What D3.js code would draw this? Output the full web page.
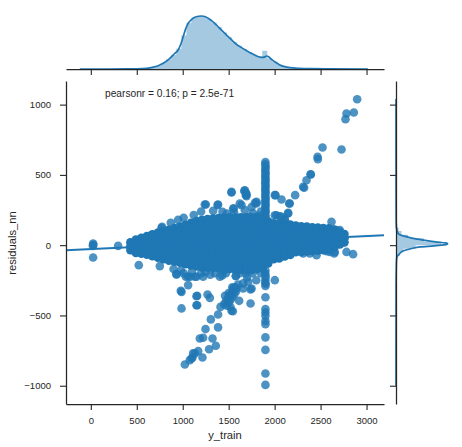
<!DOCTYPE html>
<html>
<head>
<meta charset="utf-8">
<script src="https://cdn.jsdelivr.net/npm/d3@7"></script>
<style>
body { margin: 0; background: #fff; }
text { font-family: "Liberation Sans", Arial, sans-serif; fill: #262626; }
</style>
</head>
<body>
<div id="chart"></div>
<script>
const width = 462
const height = 447

// axis limits and ticks
const xDomain = [-270, 3190]
const yDomain = [-1130, 1168]
const xTicks = [0, 500, 1000, 1500, 2000, 2500, 3000]
const yTicks = [-1000, -500, 0, 500, 1000]

// regression fit (residuals_nn ~ y_train)
const regIntercept = -28
const regSlope = 0.031
const statText = 'pearsonr = 0.16; p = 2.5e-71'

// dense core of the cloud, one column of residuals per y_train value
const coreX = [430, 490, 550, 610, 670, 730, 790, 850, 910, 970, 1030, 1090, 1150, 1210, 1270, 1330, 1390, 1450, 1510, 1570,
  1630, 1690, 1750, 1810, 1870, 1930, 1990, 2050, 2110, 2170, 2230, 2290, 2350, 2410, 2470, 2530, 2590, 2650, 2710, 2760]
const coreY = [
  [20, -8, -35],
  [40, 8, -22, -55],
  [52, 18, -18, -60],
  [65, 30, -5, -38, -68],
  [78, 45, 12, -20, -50, -78],
  [90, 58, 25, -8, -40, -68, -90],
  [100, 68, 35, 2, -32, -65, -100],
  [110, 78, 45, 12, -20, -52, -82, -110],
  [122, 90, 58, 25, -8, -40, -72, -100, -118],
  [130, 98, 65, 32, 0, -32, -65, -95, -125],
  [145, 112, 78, 45, 12, -20, -52, -85, -112, -135],
  [160, 125, 90, 58, 25, -8, -40, -72, -105, -145],
  [172, 138, 102, 68, 35, 2, -30, -62, -95, -125, -152],
  [180, 145, 110, 75, 40, 5, -28, -60, -92, -125, -158],
  [186, 150, 115, 80, 45, 10, -25, -58, -92, -126, -160],
  [190, 155, 120, 85, 50, 15, -20, -55, -90, -125, -163],
  [193, 158, 122, 88, 52, 18, -18, -52, -88, -125, -166],
  [196, 160, 125, 90, 55, 20, -15, -50, -85, -122, -168],
  [198, 162, 126, 92, 56, 20, -15, -50, -85, -125, -170],
  [199, 163, 127, 92, 57, 22, -14, -50, -88, -128, -172],
  [199, 163, 128, 92, 57, 22, -14, -50, -88, -130, -174],
  [198, 162, 126, 90, 55, 20, -15, -52, -90, -132, -176],
  [197, 160, 124, 88, 52, 18, -18, -55, -92, -135, -176],
  [195, 158, 122, 86, 50, 15, -20, -55, -92, -130, -170],
  [192, 156, 120, 85, 50, 15, -20, -55, -90, -128, -165],
  [170, 135, 100, 65, 30, -5, -40, -75, -105, -130],
  [156, 122, 88, 54, 20, -15, -48, -78, -100],
  [154, 120, 86, 52, 18, -16, -50, -75, -95],
  [151, 118, 84, 50, 17, -16, -50, -80],
  [147, 115, 82, 48, 15, -18, -50, -70],
  [140, 108, 76, 42, 10, -22, -50],
  [135, 104, 72, 40, 8, -22, -48],
  [132, 100, 70, 38, 6, -20, -45],
  [128, 96, 66, 34, 4, -20, -42],
  [125, 93, 62, 32, 2, -18, -40],
  [122, 90, 58, 28, 0, -35],
  [120, 88, 56, 24, -5, -30],
  [112, 80, 48, 16, -15],
  [95, 62, 32, 5],
  [80, 50, 20]
]

// scattered points around the core
const outliers = [
  [25, 12], [28, 2], [22, -5], [25, -88], [297, -5], [522, -142], [751, -149], [932, -208], [932, -206],
  [1059, -284], [987, -332], [979, -325], [987, -450], [1150, -363], [1157, -360], [1150, -427], [1157, -427],
  [1132, -225], [1034, -225], [1059, -225], [1082, -225], [1150, -225], [1222, -225],
  [569, 28], [660, 71], [769, 123], [776, 130],
  [1023, -849], [1077, -818], [1096, -806], [1106, -799], [1113, -770], [1132, -770], [1168, -754], [1215, -799],
  [1287, -740], [1360, -716], [1186, -664], [1222, -659], [1324, -664], [1248, -597], [1385, -585], [1306, -528],
  [1385, -493], [1411, -439], [1270, -351], [1295, -375],
  [1450, -420], [1470, -400], [1490, -380], [1510, -360], [1530, -340], [1550, -320], [1570, -300], [1480, -430],
  [1500, -410], [1520, -390], [1540, -370], [1560, -350], [1580, -330], [1460, -360], [1500, -340], [1540, -300],
  [1600, -280], [1520, -440], [1531, -467], [1545, -470], [1614, -396], [1658, -308], [1738, -315], [1738, -415],
  [1712, -261], [1578, -218], [2002, -249], [1404, -225], [1430, -215], [1470, -200], [1447, -183], [1494, -166],
  [1578, -221], [1658, -272], [1785, -161], [1749, -308], [1549, -306], [1585, -306], [1687, -201], [1749, -178],
  [1785, -142],
  [900, -170], [980, -180], [1010, -200], [1100, -190], [1200, -200], [1250, -190], [1300, -210], [1350, -200],
  [1620, -200], [1700, -230], [1760, -200], [1800, -250], [1850, -200],
  [2601, -48], [2655, -48], [2782, -48], [2854, -64], [2565, -43], [2648, -59], [2456, -71],
  [2383, -59], [2310, -59], [2666, 107], [2619, 166],
  [2898, 1038], [2782, 937], [2771, 896], [2862, 944], [2521, 695], [2728, 681], [2467, 628], [2470, 612],
  [2394, 503], [2391, 505], [2347, 462], [2321, 408], [2310, 415], [2223, 356], [2158, 296], [2165, 296],
  [2075, 325], [2010, 356], [2002, 356], [1676, 391], [1694, 363], [1669, 386], [1687, 356], [1531, 375],
  [1531, 379], [1251, 289], [1240, 289], [1385, 289], [1379, 285], [1331, 244], [1433, 237], [1549, 261],
  [1556, 261], [1621, 296], [1749, 272], [1803, 296], [1803, 308], [2002, 213], [2020, 213], [2057, 206],
  [2147, 225], [2147, 230], [2111, 183], [2111, 178], [2075, 201], [2709, 107], [1687, 372],
  [1694, 349], [1785, 301], [1763, 228], [1730, 201], [1803, 201], [1640, 285], [1676, 249],
  [870, 160], [950, 180], [1010, 195], [1120, 215], [1200, 240], [1480, 225], [1560, 230], [1850, 240], [1840, 210]
]

// the vertical streak near y_train = 1900
const streakX = [1900, 1898, 1902, 1900, 1898, 1902, 1900, 1898, 1902, 1900, 1898, 1902, 1900, 1898, 1902, 1900, 1898,
  1902, 1900, 1898, 1902, 1900, 1898, 1902, 1900, 1898, 1902,
  1900, 1898, 1902, 1900, 1898, 1902, 1900, 1900, 1900, 1900, 1900, 1900, 1900, 1900, 1900, 1900, 1900]
const streakY = [592, 575, 560, 545, 530, 515, 500, 485, 470, 455, 440, 425, 410, 395, 380, 365, 350,
  335, 320, 305, 290, 275, 260, 245, 230, 215, 200,
  -180, -200, -220, -240, -263, -275, -290, -370, -455, -479, -503, -540, -563, -656, -745, -913, -994]

// top marginal: histogram + kde of y_train
const histXStart = 325
const histXWidth = 55
const histXHeights = [0.01, 0.01, 0.02, 0.03, 0.06, 0.15, 0.3, 0.55, 1.0, 1.6, 2.3, 3.3, 5.5, 7.6, 8.4, 8.7, 8.6, 8.2,
  7.6, 6.9, 6.0, 5.2, 4.4, 3.8, 3.3, 2.8, 2.35, 2.0, 3.0, 1.75, 1.2, 0.7, 0.38, 0.2, 0.12, 0.08, 0.05, 0.04, 0.03,
  0.02, 0.02, 0.01, 0.01, 0.01, 0.01, 0.01, 0.01]
const kdeX = [-120, 200, 400, 500, 605, 680, 751, 810, 860, 910, 950, 980, 1005, 1030, 1059, 1095, 1132, 1170, 1205,
  1240, 1277, 1320, 1368, 1420, 1477, 1530, 1585, 1640, 1694, 1750, 1803, 1840, 1875, 1895, 1912, 1935, 1966, 2010,
  2057, 2110, 2165, 2270, 2383, 2600, 3015]
const kdeXVals = [0, 0, 0.01, 0.03, 0.11, 0.3, 0.66, 1.15, 1.75, 2.5, 3.11, 4.1, 5.3, 6.5, 7.49, 8.1, 8.47, 8.65, 8.69,
  8.6, 8.31, 7.85, 7.21, 6.4, 5.57, 4.8, 4.05, 3.5, 3.0, 2.55, 2.13, 1.95, 1.91, 2.0, 2.13, 2.0, 1.58, 1.1,
  0.66, 0.38, 0.22, 0.1, 0.05, 0.02, 0]

// right marginal: histogram + kde of residuals_nn
const histYStart = -200
const histYWidth = 25
const histYHeights = [0.02, 0.05, 0.08, 0.15, 0.3, 0.6, 1.2, 3.2, 7.4, 4.6, 2.0, 0.9, 0.4, 0.2, 0.1, 0.05]
const kdeY = [-1000, -300, -150, -100, -83, -60, -45, -36, -24, -12, -5, 0, 4, 8, 12, 16, 24, 36, 48, 59, 80,
  107, 130, 200, 400, 1040]
const kdeYVals = [0, 0.01, 0.05, 0.1, 0.16, 0.6, 1.0, 1.5, 2.6, 4.0, 6.2, 7.5, 8.2, 8.46, 8.4, 8.1, 6.5, 4.5, 2.8,
  1.8, 0.4, 0.16, 0.05, 0.02, 0.01, 0]

const blue = '#1f77b4'
const edge = '#262626'
const tickFmt = d3.format('d')

const svg = d3.select('#chart').append('svg')
  .attr('width', width)
  .attr('height', height)

const x = d3.scaleLinear().domain(xDomain).range([66, 384])
const y = d3.scaleLinear().domain(yDomain).range([404, 81])
const topV = d3.scaleLinear().domain([0, 10]).range([69, 8])
const sideV = d3.scaleLinear().domain([0, 10]).range([396, 457])

// --- main scatter
// the core stands in for thousands of overlapping points, so it renders opaque
const corePoints = coreX.flatMap((cx, i) => coreY[i].map(cy => [cx, cy]))
const loosePoints = outliers.concat(streakX.map((sx, i) => [sx, streakY[i]]))

svg.append('g')
  .selectAll('circle')
  .data(corePoints)
  .enter()
  .append('circle')
  .attr('cx', d => x(d[0]))
  .attr('cy', d => y(d[1]))
  .attr('r', 4.3)
  .attr('fill', blue)

svg.append('g')
  .selectAll('circle')
  .data(loosePoints)
  .enter()
  .append('circle')
  .attr('cx', d => x(d[0]))
  .attr('cy', d => y(d[1]))
  .attr('r', 4.3)
  .attr('fill', blue)
  .attr('fill-opacity', 0.8)

svg.append('line')
  .attr('x1', x(xDomain[0]))
  .attr('y1', y(regIntercept + regSlope * xDomain[0]))
  .attr('x2', x(xDomain[1]))
  .attr('y2', y(regIntercept + regSlope * xDomain[1]))
  .attr('stroke', blue)
  .attr('stroke-width', 2)

svg.append('text')
  .attr('x', 105)
  .attr('y', 97)
  .attr('font-size', 10.2)
  .text(statText)

// --- axes
function styleAxis(g) {
  g.select('.domain').attr('stroke', edge).attr('stroke-width', 1.25)
  g.selectAll('.tick line').attr('stroke', edge).attr('stroke-width', 1.1)
  g.selectAll('.tick text').attr('fill', edge).attr('font-size', 9.5)
    .attr('font-family', '"Liberation Sans", Arial, sans-serif')
}

svg.append('g')
  .attr('transform', 'translate(0,404)')
  .call(d3.axisBottom(x).tickValues(xTicks).tickFormat(tickFmt).tickSize(6).tickSizeOuter(0).tickPadding(7))
  .call(styleAxis)

svg.append('g')
  .attr('transform', 'translate(66,0)')
  .call(d3.axisLeft(y).tickValues(yTicks).tickFormat(tickFmt).tickSize(6).tickSizeOuter(0).tickPadding(9))
  .call(styleAxis)

svg.append('text')
  .attr('x', 225)
  .attr('y', 439)
  .attr('text-anchor', 'middle')
  .attr('font-size', 11.2)
  .text('y_train')

svg.append('text')
  .attr('transform', 'translate(16,243) rotate(-90)')
  .attr('text-anchor', 'middle')
  .attr('font-size', 11.2)
  .text('residuals_nn')

// --- top marginal
const histXSteps = histXHeights.map((h, i) => [histXStart + i * histXWidth, h])
histXSteps.push([histXStart + histXHeights.length * histXWidth, 0])

svg.append('path')
  .datum(histXSteps)
  .attr('d', d3.area().x(d => x(d[0])).y0(topV(0)).y1(d => topV(d[1])).curve(d3.curveStepAfter))
  .attr('fill', blue)
  .attr('fill-opacity', 0.4)

svg.append('path')
  .datum(kdeX.map((k, i) => [k, kdeXVals[i]]))
  .attr('d', d3.line().x(d => x(d[0])).y(d => topV(d[1])).curve(d3.curveMonotoneX))
  .attr('fill', 'none')
  .attr('stroke', blue)
  .attr('stroke-width', 1.7)

svg.append('g')
  .attr('transform', 'translate(0,69)')
  .call(d3.axisBottom(x).tickValues(xTicks).tickSize(6).tickSizeOuter(0).tickFormat(''))
  .call(styleAxis)

// --- right marginal
const histYSteps = histYHeights.map((h, i) => [histYStart + i * histYWidth, h])
histYSteps.push([histYStart + histYHeights.length * histYWidth, 0])

svg.append('path')
  .datum(histYSteps)
  .attr('d', d3.area().y(d => y(d[0])).x0(sideV(0)).x1(d => sideV(d[1])).curve(d3.curveStepBefore))
  .attr('fill', blue)
  .attr('fill-opacity', 0.4)

svg.append('path')
  .datum(kdeY.map((k, i) => [k, kdeYVals[i]]))
  .attr('d', d3.line().x(d => sideV(d[1])).y(d => y(d[0])).curve(d3.curveMonotoneY))
  .attr('fill', 'none')
  .attr('stroke', blue)
  .attr('stroke-width', 1.7)

svg.append('g')
  .attr('transform', 'translate(396,0)')
  .call(d3.axisLeft(y).tickValues(yTicks).tickSize(6).tickSizeOuter(0).tickFormat(''))
  .call(styleAxis)
</script>
</body>
</html>
